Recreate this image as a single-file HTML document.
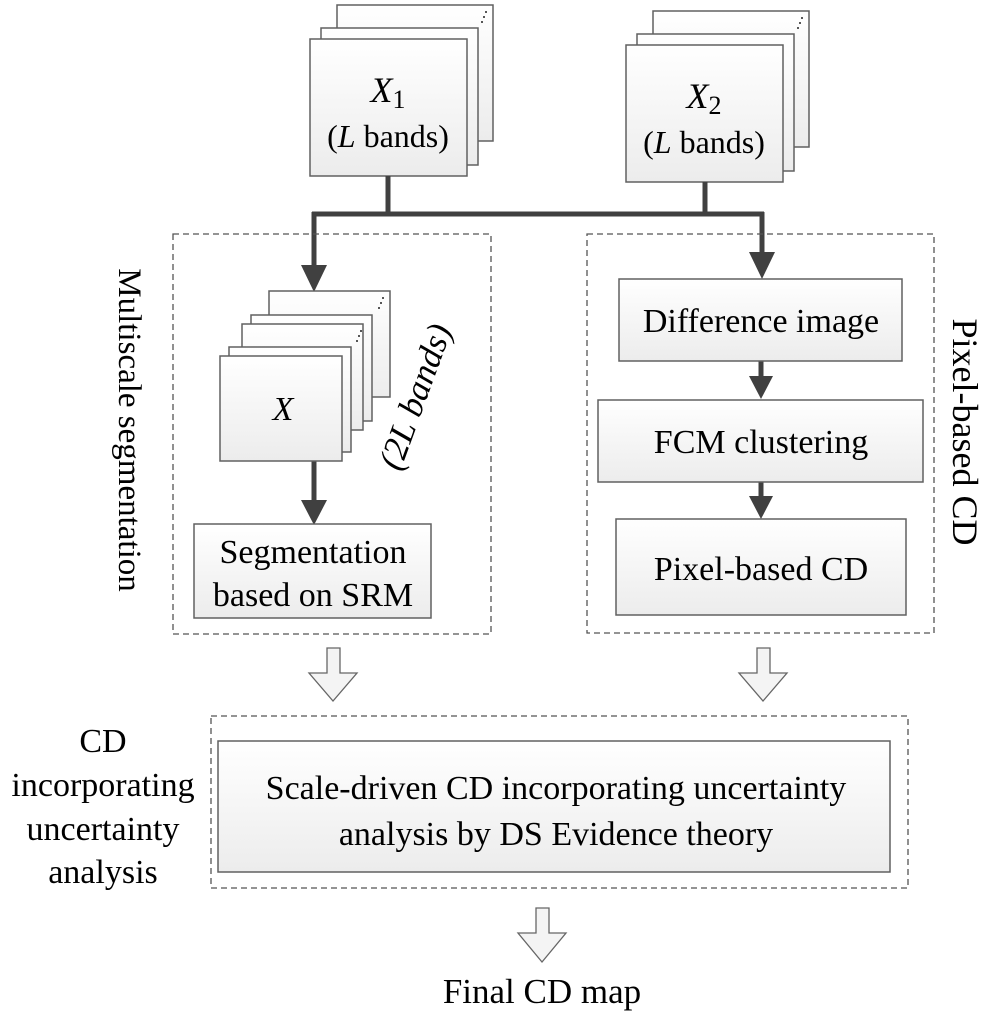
<!DOCTYPE html>
<html><head><meta charset="utf-8"><style>
html,body{margin:0;padding:0;background:#fff;}
svg{display:block;}
text{font-family:"Liberation Serif",serif;}
</style></head><body>
<svg width="996" height="1024" viewBox="0 0 996 1024" xmlns="http://www.w3.org/2000/svg">
<defs>
<linearGradient id="g" x1="0" y1="0" x2="0" y2="1"><stop offset="0" stop-color="#ffffff"/><stop offset="1" stop-color="#ececec"/></linearGradient>
</defs>
<g stroke="#606060" stroke-width="1.5" fill="url(#g)">
<rect x="337" y="5" width="156" height="136"/>
<rect x="321" y="28" width="157" height="137"/>
<rect x="310" y="39" width="157" height="137"/>
<rect x="653" y="11" width="156" height="136"/>
<rect x="637" y="34" width="157" height="137"/>
<rect x="626" y="45" width="157" height="137"/>
</g>
<g fill="#222"><circle cx="486" cy="12" r="1"/><circle cx="484" cy="17" r="1"/><circle cx="482" cy="22" r="1"/>
<circle cx="802" cy="18" r="1"/><circle cx="800" cy="23" r="1"/><circle cx="798" cy="28" r="1"/></g>
<text x="388" y="102" font-size="36" text-anchor="middle" font-style="italic">X<tspan font-style="normal" font-size="26" dy="6">1</tspan></text>
<text x="388" y="147" font-size="32" text-anchor="middle">(<tspan font-style="italic">L</tspan> bands)</text>
<text x="704" y="108" font-size="36" text-anchor="middle" font-style="italic">X<tspan font-style="normal" font-size="26" dy="6">2</tspan></text>
<text x="704" y="153" font-size="32" text-anchor="middle">(<tspan font-style="italic">L</tspan> bands)</text>

<g stroke="#404040" stroke-width="5" fill="none">
<line x1="388" y1="176" x2="388" y2="214"/>
<line x1="705" y1="182" x2="705" y2="214"/>
<line x1="312" y1="214" x2="764" y2="214"/>
<line x1="314" y1="212" x2="314" y2="270"/>
<line x1="762" y1="212" x2="762" y2="258"/>
<line x1="314" y1="461" x2="314" y2="505"/>
<line x1="761" y1="361" x2="761" y2="383"/>
<line x1="761" y1="482" x2="761" y2="502"/>
</g>
<g fill="#404040">
<path d="M301,265 L327,265 L314,292 Z"/>
<path d="M749,252 L775,252 L762,279 Z"/>
<path d="M301,500 L327,500 L314,525 Z"/>
<path d="M749,376 L773,376 L761,399 Z"/>
<path d="M749,496 L773,496 L761,519 Z"/>
</g>

<g stroke="#555" stroke-width="1.3" fill="none" stroke-dasharray="6,4">
<rect x="173" y="234" width="318" height="400"/>
<rect x="587" y="234" width="347" height="399"/>
<rect x="211" y="716" width="697" height="172"/>
</g>

<g stroke="#606060" stroke-width="1.5" fill="url(#g)">
<rect x="269" y="291" width="121" height="106"/>
<rect x="251" y="315" width="121" height="106"/>
<rect x="242" y="324" width="121" height="106"/>
<rect x="229" y="347" width="122" height="105"/>
<rect x="220" y="356" width="122" height="105"/>
</g>
<g fill="#222"><circle cx="383" cy="298" r="1"/><circle cx="381" cy="303" r="1"/><circle cx="379" cy="308" r="1"/>
<circle cx="361" cy="331" r="1"/><circle cx="359" cy="336" r="1"/><circle cx="357" cy="341" r="1"/></g>
<text x="283" y="420" font-size="34" text-anchor="middle" font-style="italic">X</text>
<text font-size="35" font-style="italic" transform="translate(400,472) rotate(-70)">(2L bands)</text>

<g stroke="#606060" stroke-width="1.5" fill="url(#g)">
<rect x="194" y="524" width="237" height="94"/>
<rect x="619" y="279" width="283" height="82"/>
<rect x="598" y="400" width="325" height="82"/>
<rect x="616" y="519" width="290" height="96"/>
<rect x="218" y="741" width="672" height="131"/>
</g>
<text x="313" y="563" font-size="34" text-anchor="middle">Segmentation</text>
<text x="313" y="606" font-size="34" text-anchor="middle">based on SRM</text>
<text x="761" y="332" font-size="34" text-anchor="middle">Difference image</text>
<text x="761" y="453" font-size="34" text-anchor="middle">FCM clustering</text>
<text x="761" y="580" font-size="34" text-anchor="middle">Pixel-based CD</text>
<text x="556" y="799" font-size="34" text-anchor="middle">Scale-driven CD incorporating uncertainty</text>
<text x="556" y="845" font-size="34" text-anchor="middle">analysis by DS Evidence theory</text>

<text font-size="33" text-anchor="middle" transform="translate(119,430) rotate(90)">Multiscale segmentation</text>
<text font-size="36" text-anchor="middle" transform="translate(953,432) rotate(90)">Pixel-based CD</text>

<g font-size="34" text-anchor="middle">
<text x="103" y="752">CD</text>
<text x="103" y="796">incorporating</text>
<text x="103" y="840">uncertainty</text>
<text x="103" y="883">analysis</text>
</g>

<g stroke="#666" stroke-width="1.3" fill="#f4f4f4">
<path d="M327,648 L340,648 L340,673 L357,673 L333,701 L309,673 L327,673 Z"/>
<path d="M757,648 L770,648 L770,673 L787,673 L763,701 L739,673 L757,673 Z"/>
<path d="M536,908 L549,908 L549,933 L566,933 L542,962 L518,933 L536,933 Z"/>
</g>
<text x="542" y="1003" font-size="35" text-anchor="middle">Final CD map</text>
</svg>
</body></html>
